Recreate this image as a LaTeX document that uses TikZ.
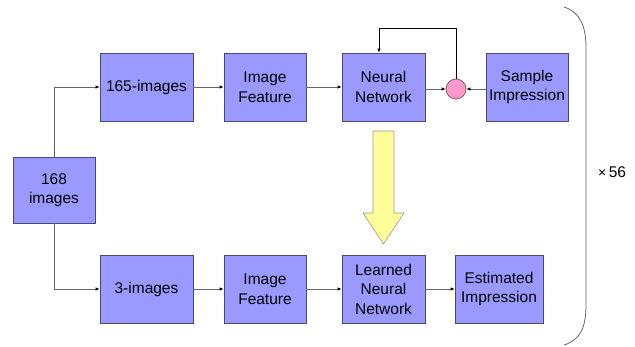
\documentclass[tikz,border=0pt]{standalone}
\usepackage{fontspec}
\setmainfont{Liberation Sans}
\usepackage{tikz}
\usetikzlibrary{arrows.meta,positioning,calc}
\definecolor{stepFill}{HTML}{9999FF}
\definecolor{stepEdge}{HTML}{4A4A7A}
\definecolor{sumPink}{HTML}{FF99CC}
\definecolor{sumEdge}{HTML}{8A5A70}
\definecolor{learnYellow}{HTML}{FFFF99}
\definecolor{wireGray}{HTML}{666666}

\begin{document}
\begin{tikzpicture}[x=1pt,y=-1pt,font=\fontsize{15.5pt}{19.5pt}\selectfont,
    stepbox/.style={draw=stepEdge,fill=stepFill,line width=0.8pt,
                    minimum height=68pt,align=center,inner sep=2pt},
    wire/.style={draw=wireGray,line width=0.8pt,
                 -{Latex[length=4pt,width=3.5pt,color=black]}}]
  \useasboundingbox (0,0) rectangle (635,347);
  % training row
  \node[stepbox,minimum width=82pt,minimum height=66pt] (all) at (54,190) {168\\images};
  \node[stepbox,minimum width=93pt] (sub165) at (146.5,87) {165-images};
  \node[stepbox,minimum width=82pt] (featA)  at (265,87)   {Image\\Feature};
  \node[stepbox,minimum width=83pt] (nn)     at (383.5,87) {Neural\\Network};
  \node[circle,draw=sumEdge,fill=sumPink,line width=0.8pt,minimum size=20pt,
        inner sep=0pt] (sum) at (456,89) {};
  \node[stepbox,minimum width=82pt] (sample) at (527,87)   {Sample\\Impression};
  % test row
  \node[stepbox,minimum width=93pt] (sub3)   at (146.5,289) {3-images};
  \node[stepbox,minimum width=82pt] (featB)  at (265,289)   {Image\\Feature};
  \node[stepbox,minimum width=83pt] (lnn)    at (383.5,289) {Learned\\Neural\\Network};
  \node[stepbox,minimum width=88pt] (est)    at (499,289)   {Estimated\\Impression};
  \coordinate (loop) at (456,28);

  \draw[wire] (all.north) |- (sub165.west);
  \draw[wire] (all.south) |- (sub3.west);
  \draw[wire] (sub165) -- (featA);
  \draw[wire] (featA) -- (nn);
  \draw[wire] (nn.east |- sum) -- (sum);
  \draw[wire] (sample.west |- sum) -- (sum);
  \draw[wire,draw=black] (sum.north) -- (loop) -| ([xshift=-4.5pt]nn.north);
  \draw[wire] (sub3) -- (featB);
  \draw[wire] (featB) -- (lnn);
  \draw[wire] (lnn) -- (est);

  % learned weights carried down
  \draw[draw=gray!80,fill=learnYellow,line width=0.6pt]
    (373,131) -- (394,131) -- (394,213) -- (404,213) -- (383.5,244)
    -- (363,213) -- (373,213) -- cycle;

  % repetition bracket
  \draw[draw=wireGray,line width=0.8pt]
    (564,7) .. controls (580,12) and (586,26) .. (586,48) -- (586,305)
    .. controls (586,328) and (580,340) .. (564,345);
  \node (reps) at (612,172) {{\fontsize{14pt}{16pt}\selectfont×}\,56};
\end{tikzpicture}
\end{document}
